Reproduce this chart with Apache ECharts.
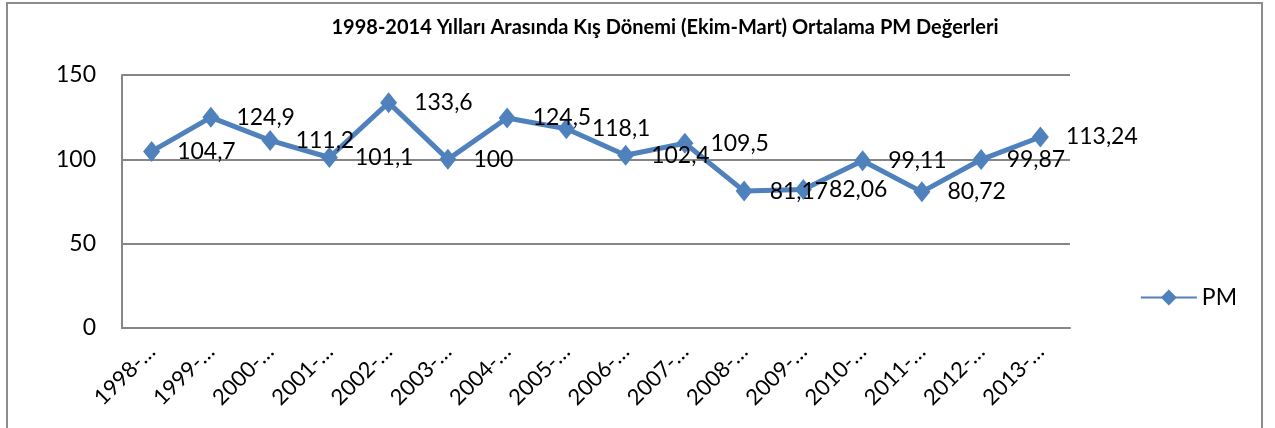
<!DOCTYPE html>
<html>
<head>
<meta charset="utf-8">
<script src="https://cdn.jsdelivr.net/npm/echarts@6/dist/echarts.min.js"></script>
<style>
  html, body { margin: 0; padding: 0; background: #fff; }
  #chart { width: 1275px; height: 428px; }
</style>
</head>
<body>
<div id="chart"></div>
<script>
const categories = [
  '1998-1999', '1999-2000', '2000-2001', '2001-2002', '2002-2003', '2003-2004',
  '2004-2005', '2005-2006', '2006-2007', '2007-2008', '2008-2009', '2009-2010',
  '2010-2011', '2011-2012', '2012-2013', '2013-2014'
]
const pmValues = [104.7, 124.9, 111.2, 101.1, 133.6, 100, 124.5, 118.1, 102.4, 109.5, 81.17, 82.06, 99.11, 80.72, 99.87, 113.24]
const yTicks = [0, 50, 100, 150]

const font = 'Lato, "Open Sans", sans-serif'
const chart = echarts.init(document.getElementById('chart'))

const option = {
  animation: false,
  title: {
    text: '1998-2014 Yılları Arasında Kış Dönemi (Ekim-Mart) Ortalama PM Değerleri',
    left: 660,
    textAlign: 'center',
    top: 13,
    textStyle: { fontFamily: font, fontSize: 20, fontWeight: 'bold', color: '#000' }
  },
  graphic: [{
    type: 'rect',
    shape: { x: 7, y: 3, width: 1255, height: 440 },
    style: { fill: 'none', stroke: '#8c8c8c', lineWidth: 2 },
    silent: true
  }],
  legend: {
    right: 33,
    top: 281,
    itemWidth: 56,
    itemHeight: 20,
    itemGap: 4,
    textStyle: { fontFamily: font, fontSize: 23, color: '#000' },
    data: ['PM']
  },
  grid: { left: 122, right: 205, top: 75, bottom: 100 },
  xAxis: {
    type: 'category',
    data: categories,
    boundaryGap: true,
    axisLine: { lineStyle: { color: '#868686', width: 2 } },
    axisTick: { show: false },
    axisLabel: {
      rotate: 45,
      interval: 0,
      margin: 20,
      fontFamily: font,
      fontSize: 22,
      color: '#000',
      formatter: v => v.slice(0, 5) + '…'
    }
  },
  yAxis: {
    type: 'value',
    min: yTicks[0],
    max: yTicks[yTicks.length - 1],
    interval: 50,
    axisLine: { show: true, lineStyle: { color: '#868686', width: 2 } },
    axisTick: { show: false },
    axisLabel: { fontFamily: font, fontSize: 23, color: '#000', margin: 26 },
    splitLine: { lineStyle: { color: '#868686', width: 2 } }
  },
  series: [{
    name: 'PM',
    type: 'line',
    data: pmValues,
    symbol: 'diamond',
    symbolSize: [17, 21],
    itemStyle: { color: '#4F81BD' },
    lineStyle: { color: '#4F81BD', width: 5 },
    label: {
      show: true,
      position: 'right',
      distance: 17,
      fontFamily: font,
      fontSize: 23,
      color: '#000',
      formatter: p => String(p.value).replace('.', ',')
    }
  }]
}

chart.setOption(option)
</script>
</body>
</html>
